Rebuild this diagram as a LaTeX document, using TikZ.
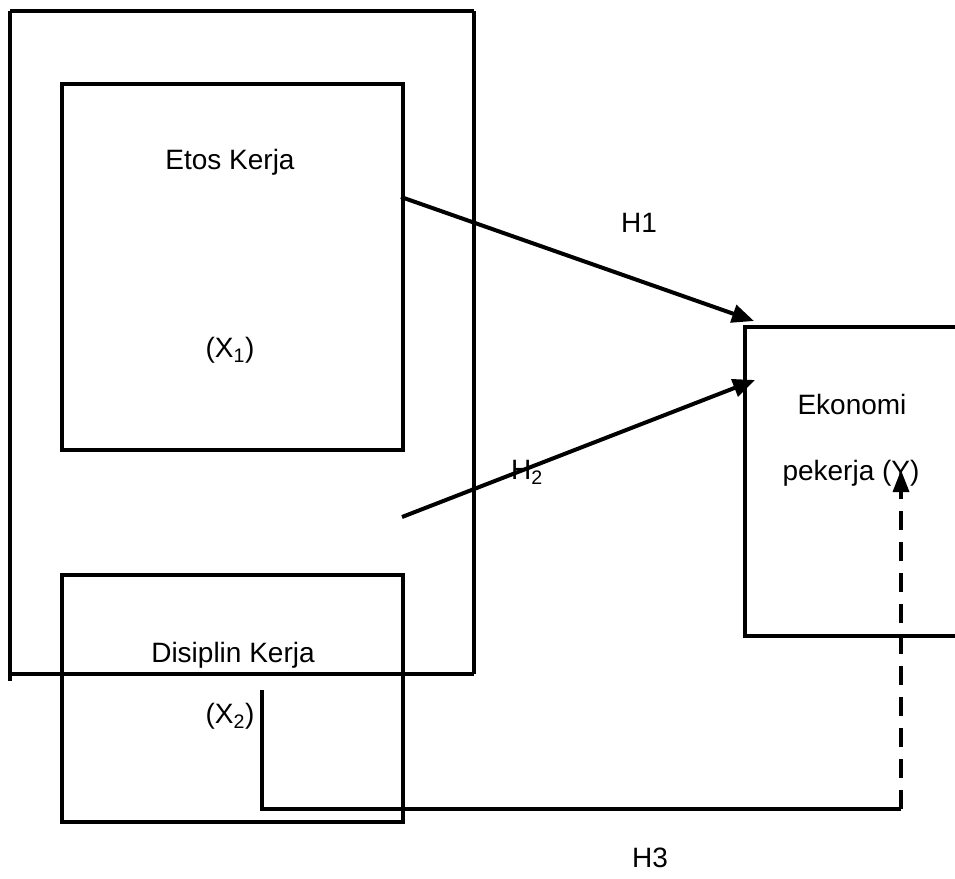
\documentclass[tikz,border=0pt]{standalone}
\usepackage{fontspec}
\setmainfont{Liberation Sans}
\usetikzlibrary{arrows.meta}
\begin{document}
\begin{tikzpicture}[x=1pt,y=-1pt,
  boxline/.style={line width=3.6pt},
  conn/.style={line width=4pt,-{Triangle[length=22pt,width=18pt]}},
  lbl/.style={font=\fontsize{28}{32}\selectfont, inner sep=0pt},
  boxnode/.style={draw, line width=3.6pt, rectangle, inner sep=0pt, anchor=north west}]
\useasboundingbox (0,0) rectangle (955,878);
% outer frame
\coordinate (otl) at (10,11);
\coordinate (otr) at (474,11);
\coordinate (obr) at (474,674);
\coordinate (obl) at (8,674);
\coordinate (olb) at (10,681);
\draw[line width=4.8pt] (otl) -- (otr);
\draw[boxline] (otl) -- (olb);
\draw[boxline] (otr) -- (obr);
\draw[boxline] (obl) -- (obr);
% inner boxes
\node[boxnode, minimum width=341pt, minimum height=366pt] (etos) at (60,82) {};
\node[boxnode, minimum width=341pt, minimum height=247pt] (disc) at (60,573) {};
% Ekonomi box (open on the right)
\coordinate (etl) at (745,327);
\coordinate (ebl) at (745,636);
\coordinate (etr) at (955,327);
\coordinate (ebr) at (955,636);
\draw[boxline] (etr) -- (etl) -- (ebl) -- (ebr);
% texts
\node[lbl] (t1) at (230,162) {Etos Kerja};
\node[lbl] (t2) at (230,350) {(X\textsubscript{1})};
\node[lbl] (t3) at (233,655) {Disiplin Kerja};
\node[lbl] (t4) at (230,716) {(X\textsubscript{2})};
\node[lbl] (t5) at (852,404) {Ekonomi};
\node[lbl] (t6) at (851,473) {pekerja (Y)};
\node[lbl] (h1) at (639,223) {H1};
\node[lbl] (h2) at (527,472) {H\textsubscript{2}};
\node[lbl] (h3) at (650,858) {H3};
% connectors
\coordinate (a1s) at (401,197);
\coordinate (a1e) at (754,321);
\coordinate (a2s) at (402,517);
\coordinate (a2e) at (755,380);
\draw[conn] (a1s) -- (a1e);
\draw[conn] (a2s) -- (a2e);
\coordinate (a3s) at (262,690);
\coordinate (a3c) at (262,809);
\coordinate (a3d) at (901,809);
\coordinate (a3e) at (901,470);
\draw[boxline] (a3s) -- (a3c) -- (a3d);
\draw[line width=3.4pt, dash pattern=on 19pt off 12pt, -{Triangle[length=22pt,width=16pt]}] (a3d) -- (a3e);
\end{tikzpicture}
\end{document}
